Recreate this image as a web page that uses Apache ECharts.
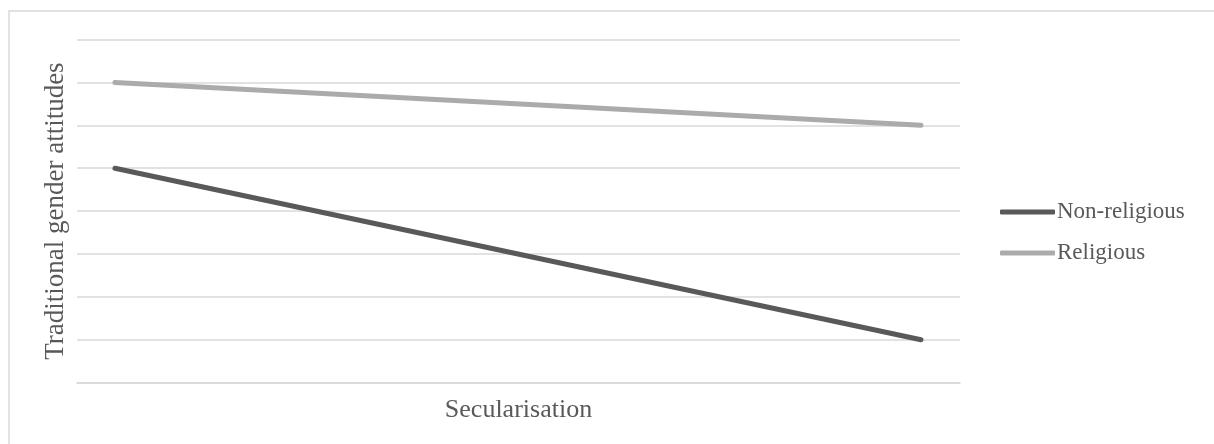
<!DOCTYPE html>
<html>
<head>
<meta charset="utf-8">
<script src="https://cdn.jsdelivr.net/npm/echarts@6/dist/echarts.min.js"></script>
<style>
html,body{margin:0;padding:0;background:#fff;}
#c{width:1214px;height:444px;}
</style>
</head>
<body>
<div id="c"></div>
<script>
// Data
const titleText = 'Expected effect of secularisation on gender attitudes in religious individuals';
const xAxisTitle = 'Secularisation';
const yAxisTitle = 'Traditional gender attitudes';
const secularisationLevels = [0, 1];
const seriesNames = ['Non-religious', 'Religious'];
const nonReligious = [5, 1];
const religious = [7, 6];
const yMin = 0, yMax = 8, yStep = 1;

const chart = echarts.init(document.getElementById('c'), null, {renderer: 'canvas'});
const serif = '"Liberation Serif", "Times New Roman", serif';
const grey = '#595959';

function pairs(xs, ys) { return xs.map((x, i) => [x, ys[i]]); }

chart.setOption({
  animation: false,
  backgroundColor: '#ffffff',
  graphic: [
    {
      type: 'rect', silent: true, z: -10,
      shape: {x: 9, y: 11, width: 1400, height: 600},
      style: {fill: 'none', stroke: '#d9d9d9', lineWidth: 1.5}
    },
    {
      type: 'text', silent: true,
      style: {
        text: titleText, x: 6, y: 5,
        font: 'italic bold 30px ' + serif,
        lineHeight: 38,
        fill: '#000000', verticalAlign: 'bottom', align: 'left'
      }
    }
  ],
  grid: {left: 77, right: 254, top: 39.5, bottom: 61.3, containLabel: false},
  legend: {
    orient: 'vertical',
    left: 995,
    top: 195,
    itemWidth: 55,
    itemHeight: 5,
    itemGap: 17,
    icon: 'roundRect',
    textStyle: {fontFamily: serif, fontSize: 23, color: grey, lineHeight: 24, padding: [0, 0, 0, -3]},
    data: seriesNames
  },
  xAxis: {
    type: 'value',
    min: -0.0471,
    max: 1.0484,
    name: xAxisTitle,
    nameLocation: 'middle',
    nameGap: 14,
    nameTextStyle: {fontFamily: serif, fontSize: 26, color: grey, verticalAlign: 'top'},
    axisLine: {show: true, lineStyle: {color: '#d9d9d9', width: 1.5}},
    axisTick: {show: false},
    axisLabel: {show: false},
    splitLine: {show: false}
  },
  yAxis: {
    type: 'value',
    min: yMin,
    max: yMax,
    interval: yStep,
    name: yAxisTitle,
    nameLocation: 'middle',
    nameRotate: 90,
    nameGap: 8,
    nameTextStyle: {fontFamily: serif, fontSize: 27, color: grey},
    axisLine: {show: false},
    axisTick: {show: false},
    axisLabel: {show: false},
    splitLine: {show: true, lineStyle: {color: '#d9d9d9', width: 1.5}}
  },
  series: [
    {
      name: seriesNames[0], type: 'line', symbol: 'none',
      data: pairs(secularisationLevels, nonReligious),
      itemStyle: {color: '#595959'},
      lineStyle: {color: '#595959', width: 5, cap: 'round'}
    },
    {
      name: seriesNames[1], type: 'line', symbol: 'none',
      data: pairs(secularisationLevels, religious),
      itemStyle: {color: '#ababab'},
      lineStyle: {color: '#ababab', width: 5, cap: 'round'}
    }
  ]
});
</script>
</body>
</html>
